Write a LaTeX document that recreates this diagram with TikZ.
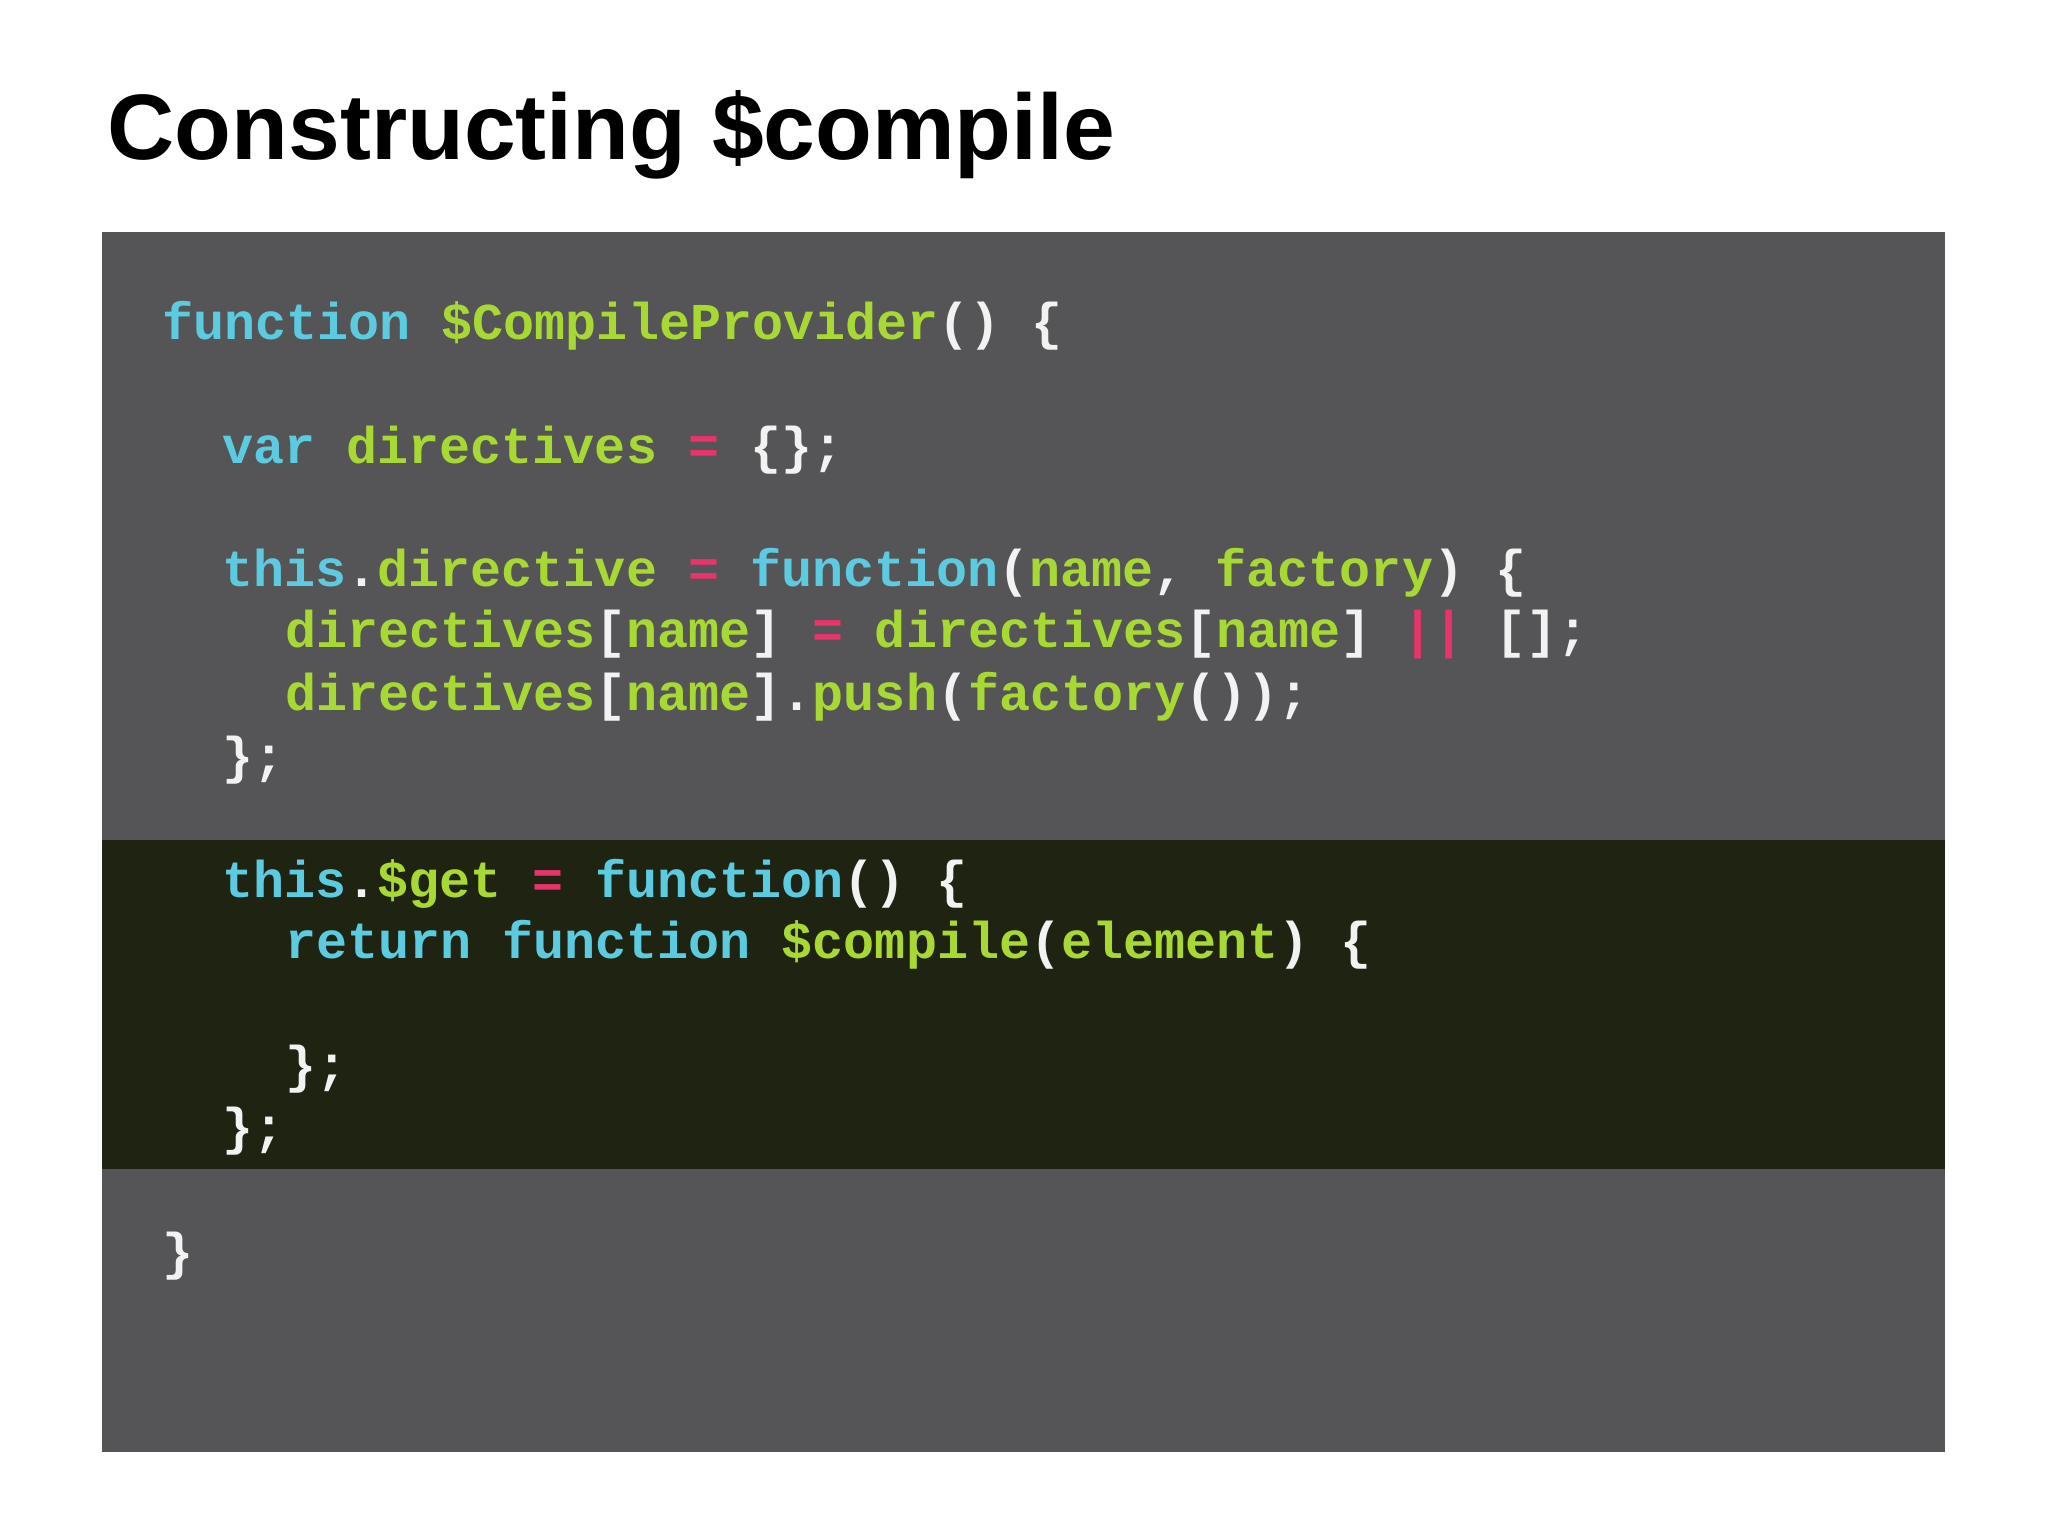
\documentclass[tikz,border=0pt]{standalone}
\usepackage{fontspec}
\setmainfont{Liberation Sans}
\setmonofont{Liberation Mono}
\definecolor{cy}{HTML}{5CCBE0}
\definecolor{gr}{HTML}{A8D834}
\definecolor{pk}{HTML}{E8336B}
\definecolor{wh}{HTML}{F2F2F2}
\definecolor{bgg}{HTML}{555456}
\definecolor{bgd}{HTML}{1F2412}
\newcommand\cK[1]{\textcolor{cy}{#1}}
\newcommand\cG[1]{\textcolor{gr}{#1}}
\newcommand\cP[1]{\textcolor{pk}{#1}}
\begin{document}
\begin{tikzpicture}[x=0.5pt,y=-0.5pt,
  code/.style={anchor=base west,inner sep=0pt,font=\ttfamily\bfseries\fontsize{19.8}{23}\selectfont,text=wh}]
\useasboundingbox (0,0) rectangle (1568,1177);
\fill[white] (0,0) rectangle (1568,1177);
\node[anchor=base west,inner sep=0pt,font=\bfseries\fontsize{35.6}{42}\selectfont] (title) at (82,122) {Constructing \$compile};
\fill[bgg] (78,178) rectangle (1489,1112);
\fill[bgd] (78,643) rectangle (1489,895);
\node[code] (l1) at (124,260) {\cK{function} \cG{\$CompileProvider}() \{};
\node[code] (l2) at (170,355) {\cK{var} \cG{directives} \cP{=} \{\};};
\node[code] (l3) at (170,449) {\cK{this}.\cG{directive} \cP{=} \cK{function}(\cG{name}, \cG{factory}) \{};
\node[code] (l4) at (218,496) {\cG{directives}[\cG{name}] \cP{=} \cG{directives}[\cG{name}] \cP{||} [];};
\node[code] (l5) at (218,544) {\cG{directives}[\cG{name}].\cG{push}(\cG{factory}());};
\node[code] (l6) at (170,592) {\};};
\node[code] (l7) at (170,687) {\cK{this}.\cG{\$get} \cP{=} \cK{function}() \{};
\node[code] (l8) at (218,734) {\cK{return} \cK{function} \cG{\$compile}(\cG{element}) \{};
\node[code] (l9) at (218,829) {\};};
\node[code] (l10) at (170,876) {\};};
\node[code] (l11) at (124,972) {\}};
\end{tikzpicture}
\end{document}
